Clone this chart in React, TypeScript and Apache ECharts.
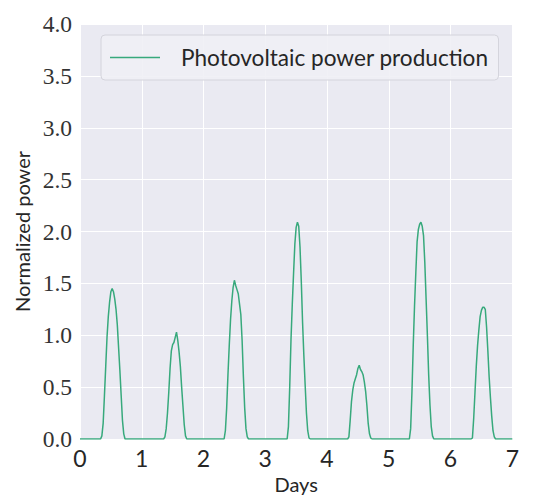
import React, { useEffect, useRef } from "react";
import * as echarts from "echarts";

// Hours of the day at which the daytime samples are read (half-hourly)
const hours = [8, 8.5, 9, 9.5, 10, 10.5, 11, 11.5, 12, 12.5, 13, 13.5, 14, 14.5, 15, 15.5, 16, 16.5, 17, 17.5, 18];

const day0 = [0, 0.03, 0.15, 0.42, 0.7, 0.98, 1.18, 1.32, 1.42, 1.45, 1.42, 1.35, 1.25, 1.1, 0.88, 0.66, 0.42, 0.18, 0.05, 0, 0];
const day1 = [0, 0, 0.02, 0.1, 0.25, 0.45, 0.68, 0.85, 0.91, 0.93, 0.98, 1.03, 0.95, 0.84, 0.7, 0.5, 0.32, 0.14, 0.03, 0, 0];
const day2 = [0, 0.08, 0.3, 0.62, 0.9, 1.15, 1.33, 1.46, 1.53, 1.48, 1.44, 1.4, 1.3, 1.2, 0.95, 0.6, 0.3, 0.1, 0.02, 0, 0];
const day3 = [0, 0, 0.12, 0.5, 0.96, 1.3, 1.6, 1.88, 2.04, 2.09, 2.05, 1.85, 1.52, 1.12, 0.8, 0.52, 0.25, 0.08, 0.01, 0, 0];
const day4 = [0, 0.02, 0.18, 0.36, 0.47, 0.54, 0.58, 0.62, 0.68, 0.71, 0.67, 0.65, 0.62, 0.55, 0.46, 0.32, 0.15, 0.05, 0.01, 0, 0];
const day5 = [0, 0.1, 0.45, 0.9, 1.28, 1.6, 1.9, 2.02, 2.07, 2.09, 2.05, 1.96, 1.7, 1.35, 1.0, 0.62, 0.33, 0.12, 0.03, 0, 0];
const day6 = [0, 0.01, 0.2, 0.45, 0.7, 0.9, 1.05, 1.18, 1.24, 1.27, 1.27, 1.25, 1.08, 0.85, 0.6, 0.4, 0.22, 0.08, 0.02, 0, 0];

const days = [day0, day1, day2, day3, day4, day5, day6];
const xTicks = [0, 1, 2, 3, 4, 5, 6, 7];
const yTicks = [0, 0.5, 1, 1.5, 2, 2.5, 3, 3.5, 4];

const seriesName = "Photovoltaic power production";
const xTitle = "Days";
const yTitle = "Normalized power";

function buildData(): [number, number][] {
  const out: [number, number][] = [[0, 0]];
  days.forEach((vals, d) => {
    vals.forEach((v, i) => out.push([d + hours[i] / 24, v]));
  });
  out.push([xTicks[xTicks.length - 1], 0]);
  return out;
}

export default function App() {
  const ref = useRef<HTMLDivElement>(null);
  useEffect(() => {
    if (!ref.current) return;
    const chart = echarts.init(ref.current, undefined, { renderer: "svg" });
    chart.setOption({
      animation: false,
      backgroundColor: "#ffffff",
      grid: {
        left: 80,
        right: 21.7,
        top: 24,
        bottom: 54.7,
        show: true,
        backgroundColor: "#EAEAF2",
        borderWidth: 0,
      },
      legend: {
        show: true,
        left: 101,
        top: 35,
        orient: "horizontal",
        icon: "rect",
        backgroundColor: "rgba(239,239,245,0.9)",
        borderColor: "#d4d4dc",
        borderWidth: 1,
        borderRadius: 4,
        padding: [9, 10, 9, 9],
        itemWidth: 50,
        itemHeight: 1.5,
        textStyle: {
          fontFamily: "Lato",
          fontSize: 22.6,
          lineHeight: 27,
          color: "#262626",
          padding: [0, 0, 0, 16],
        },
        data: [seriesName],
      },
      xAxis: {
        type: "value",
        min: xTicks[0],
        max: xTicks[xTicks.length - 1],
        interval: 1,
        name: xTitle,
        nameLocation: "middle",
        nameGap: 35,
        nameTextStyle: { fontFamily: "Lato", fontSize: 20, color: "#262626" },
        axisLine: { show: false },
        axisTick: { show: false },
        splitLine: { show: true, lineStyle: { color: "#ffffff", width: 1 } },
        axisLabel: {
          fontFamily: "Lato",
          fontSize: 23,
          color: "#262626",
          margin: 7,
        },
      },
      yAxis: {
        type: "value",
        min: yTicks[0],
        max: yTicks[yTicks.length - 1],
        interval: 0.5,
        name: yTitle,
        nameLocation: "middle",
        nameGap: 46,
        nameRotate: 90,
        nameTextStyle: { fontFamily: "Lato", fontSize: 20, color: "#262626" },
        axisLine: { show: false },
        axisTick: { show: false },
        splitLine: { show: true, lineStyle: { color: "#ffffff", width: 1 } },
        axisLabel: {
          fontFamily: "Liberation Serif",
          fontSize: 23.5,
          color: "#333333",
          margin: 8,
          formatter: (v: number) => v.toFixed(1),
        },
      },
      series: [
        {
          name: seriesName,
          type: "line",
          data: buildData(),
          symbol: "none",
          smooth: false,
          lineStyle: { color: "#37a97c", width: 1.5 },
          itemStyle: { color: "#37a97c" },
        },
      ],
    });
    return () => chart.dispose();
  }, []);
  return (
    <div
      ref={ref}
      style={{ position: "fixed", left: 0, top: 0, width: 534, height: 499 }}
    />
  );
}
